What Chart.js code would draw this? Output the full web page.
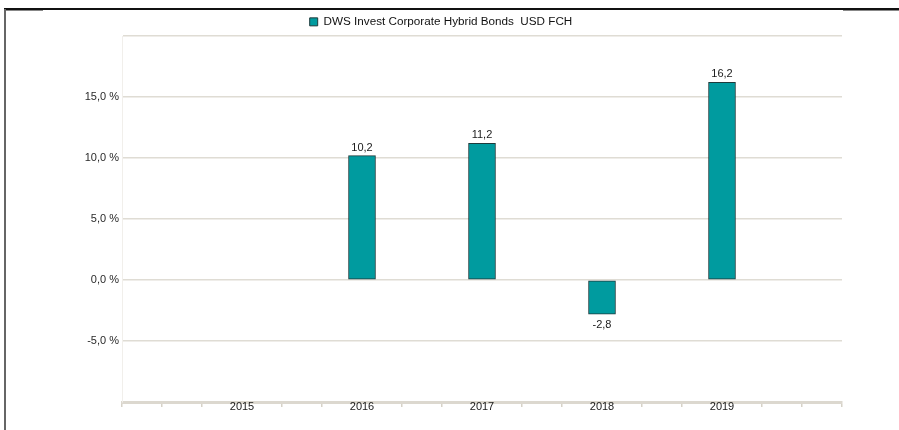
<!DOCTYPE html>
<html><head><meta charset="utf-8">
<script src="https://cdn.jsdelivr.net/npm/chart.js@4.4.1/dist/chart.umd.min.js"></script>
<style>
html,body{margin:0;padding:0;background:#fff;}
#wrap{position:relative;width:899px;height:430px;overflow:hidden;background:#fff;}
canvas{display:block;}
.b{position:absolute;}
</style></head><body>
<div id="wrap"><canvas id="c" width="899" height="430"></canvas>
<div class="b" style="left:4px;top:8px;width:895px;height:2px;background:#111"></div>
<div class="b" style="left:5px;top:10px;width:38px;height:1px;background:#888"></div>
<div class="b" style="left:843px;top:10px;width:56px;height:1px;background:#888"></div>
<div class="b" style="left:4px;top:9px;width:2px;height:421px;background:#666"></div>
</div>
<script>
const seriesName = 'DWS Invest Corporate Hybrid Bonds  USD FCH';
const years = [2015, 2016, 2017, 2018, 2019];
const returns = [null, 10.2, 11.2, -2.8, 16.2];
const yMin = -10, yMax = 20, yStep = 5;
const yHiddenLabels = [-10, 20];
const minorTicksPerYear = 3;

const FONT = '"Liberation Sans", Arial, sans-serif';
const fmt = v => v.toFixed(1).replace('.', ',');

const xMin = years[0] - 1, xMax = years[years.length - 1] + 1;

const valueLabels = {
  id: 'valueLabels',
  beforeInit(chart) {
    const lg = chart.legend;
    if (lg) {
      const origFit = lg.fit.bind(lg);
      lg.fit = function () { origFit(); this.height = 30; };
    }
  },
  afterDatasetsDraw(chart) {
    const ctx = chart.ctx;
    const meta = chart.getDatasetMeta(0);
    ctx.save();
    ctx.font = '11px ' + FONT;
    ctx.fillStyle = '#1a1a1a';
    ctx.textAlign = 'center';
    ctx.textBaseline = 'alphabetic';
    meta.data.forEach((el, i) => {
      const v = returns[i];
      if (v === null || v === undefined) return;
      const txt = fmt(v);
      if (v >= 0) ctx.fillText(txt, el.x, el.y - 5);
      else ctx.fillText(txt, el.x, el.y + 14);
    });
    ctx.restore();
  }
};

new Chart(document.getElementById('c'), {
  type: 'bar',
  data: {
    datasets: [{
      label: seriesName,
      data: years.map((y, i) => ({ x: y, y: returns[i] })),
      backgroundColor: '#009b9f',
      borderColor: '#1d3b3c',
      borderWidth: 1,
      borderSkipped: false,
      barThickness: 27
    }]
  },
  options: {
    responsive: false,
    animation: false,
    devicePixelRatio: 1,
    layout: { padding: { left: 0, right: 17, top: 6, bottom: 0 } },
    plugins: {
      legend: {
        display: true,
        position: 'top',
        align: 'center',
        labels: {
          boxWidth: 8, boxHeight: 8, padding: 10,
          color: '#111',
          font: { family: FONT, size: 11.7 }
        }
      },
      tooltip: { enabled: false }
    },
    scales: {
      x: {
        type: 'linear',
        position: 'bottom',
        min: xMin, max: xMax,
        offset: false,
        afterBuildTicks: s => {
          const t = [];
          const n = (xMax - xMin) * minorTicksPerYear;
          for (let i = 0; i <= n; i++) t.push({ value: xMin + i / minorTicksPerYear });
          s.ticks = t;
        },
        afterFit: s => { s.height = 28; },
        grid: {
          offset: false,
          drawOnChartArea: false,
          drawTicks: true,
          tickLength: 5,
          lineWidth: 1.5,
          color: c => (c.tick && years.includes(c.tick.value)) ? 'rgba(0,0,0,0)' : '#d6d2c8'
        },
        border: { display: true, color: '#dcd8cf', width: 3 },
        ticks: {
          autoSkip: false, maxRotation: 0, minRotation: 0,
          padding: -7,
          color: '#1a1a1a',
          font: { family: FONT, size: 11 },
          callback: v => years.includes(v) ? String(v) : ''
        }
      },
      y: {
        type: 'linear',
        position: 'left',
        min: yMin, max: yMax,
        afterFit: s => { s.width = 122; },
        grid: {
          drawTicks: false,
          lineWidth: 1.5,
          color: '#dfdcd4'
        },
        border: { display: true, color: '#f1efeb', width: 1 },
        ticks: {
          stepSize: yStep,
          padding: 3,
          color: '#2a2a2a',
          font: { family: FONT, size: 11 },
          callback: v => yHiddenLabels.includes(v) ? '' : fmt(v) + ' %'
        }
      },
      yR: {
        type: 'linear',
        position: 'right',
        display: true,
        afterFit: s => { s.width = 40; },
        grid: { display: false, drawTicks: false },
        border: { display: false },
        ticks: { display: false }
      }
    }
  },
  plugins: [valueLabels]
});
</script>
</body></html>
